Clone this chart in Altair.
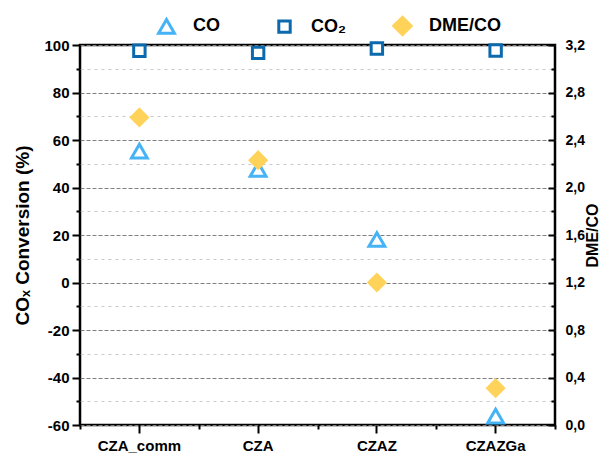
import altair as alt
import pandas as pd

# ---- data ----
categories = ["CZA_comm", "CZA", "CZAZ", "CZAZGa"]
co_conv = [55.3, 47.6, 18.1, -56.3]
co2_conv = [97.6, 96.7, 98.5, 97.7]
dme_co = [2.59, 2.23, 1.20, 0.31]

series_names = ["CO", "CO₂", "DME/CO"]
stroke_colors = ["#45b3f5", "#0b6aad", "#ffd35a"]
fill_colors = ["#ffffff", "#ffffff", "#ffd35a"]
shapes = ["triangle-up", "square", "diamond"]
sizes = [250, 130, 300]

left_major = [-60, -40, -20, 0, 20, 40, 60, 80, 100]
left_minor = [-50, -30, -10, 10, 30, 50, 70, 90]
right_major = [0.0, 0.4, 0.8, 1.2, 1.6, 2.0, 2.4, 2.8, 3.2]
right_minor = [0.2, 0.6, 1.0, 1.4, 1.8, 2.2, 2.6, 3.0]

left_df = pd.DataFrame({
    "cat": categories * 2,
    "series": ["CO"] * 4 + ["CO₂"] * 4,
    "value": co_conv + co2_conv,
})
right_df = pd.DataFrame({
    "cat": categories,
    "series": ["DME/CO"] * 4,
    "value": dme_co,
})

W, H = 475, 380
FONT = "Liberation Sans"

x_scale = alt.Scale(type="band", domain=categories, paddingInner=0, paddingOuter=0)
yl_scale = alt.Scale(domain=[-60, 100], nice=False, zero=False)
yr_scale = alt.Scale(domain=[0, 3.2], nice=False, zero=False)

legend = alt.Legend(
    title=None, orient="none", legendX=76, legendY=-30, direction="horizontal",
    columns=3, gridAlign="all", labelFont=FONT, labelFontSize=18,
    labelFontWeight="bold", labelColor="black", labelOffset=16,
    columnPadding=4, symbolStrokeWidth=3, padding=0,
)

enc_style = dict(
    stroke=alt.Stroke("series:N", scale=alt.Scale(domain=series_names, range=stroke_colors), legend=legend),
    fill=alt.Fill("series:N", scale=alt.Scale(domain=series_names, range=fill_colors), legend=legend),
    shape=alt.Shape("series:N", scale=alt.Scale(domain=series_names, range=shapes), legend=legend),
    size=alt.Size("series:N", scale=alt.Scale(type="ordinal", domain=series_names, range=sizes), legend=legend),
)

tick_common = dict(tickColor="black", tickWidth=2, domain=False)

# minor ticks + minor grid (left and bottom)
minor = alt.Chart(left_df).mark_point(opacity=0).encode(
    x=alt.X("cat:N", sort=categories, scale=x_scale, title=None,
            axis=alt.Axis(orient="bottom", tickBand="extent", labels=False, grid=False,
                          tickSize=4, **tick_common)),
    y=alt.Y("value:Q", scale=yl_scale, title=None,
            axis=alt.Axis(orient="left", values=left_minor, labels=False, grid=True,
                          gridDash=[3, 4], gridColor="#c8c8c8", gridWidth=1,
                          tickSize=4, **tick_common)),
)

main = alt.Chart(left_df).mark_point(filled=True, strokeWidth=3, opacity=1).encode(
    x=alt.X("cat:N", sort=categories, scale=x_scale, title=None,
            axis=alt.Axis(orient="bottom", labelFont=FONT, labelFontSize=15,
                          labelFontWeight="bold", labelColor="black", labelAngle=0,
                          labelPadding=5, grid=False, tickSize=8, **tick_common)),
    y=alt.Y("value:Q", scale=yl_scale,
            axis=alt.Axis(orient="left", values=left_major, title="COₓ Conversion (%)",
                          titleFont=FONT, titleFontSize=19, titleFontWeight="bold",
                          titleColor="black", titlePadding=11,
                          labelFont=FONT, labelFontSize=15, labelFontWeight="bold",
                          labelColor="black", labelPadding=3,
                          labelExpr="toString(datum.value)",
                          grid=True, gridDash=[4, 2], gridColor="#7f7f7f", gridWidth=1,
                          tickSize=8, **tick_common)),
    **enc_style,
)

dme = alt.Chart(right_df).mark_point(filled=True, strokeWidth=2, opacity=1).encode(
    x=alt.X("cat:N", sort=categories, scale=x_scale, axis=None),
    y=alt.Y("value:Q", scale=yr_scale,
            axis=alt.Axis(orient="right", values=right_major, title="DME/CO",
                          titleFont=FONT, titleFontSize=16, titleFontWeight="bold",
                          titleColor="black", titleAngle=270, titleBaseline="top",
                          titlePadding=0,
                          labelFont=FONT, labelFontSize=14, labelFontWeight="bold",
                          labelColor="black", labelPadding=10, ticks=False,
                          labelExpr="replace(format(datum.value, '.1f'), '.', ',')",
                          grid=False, domain=False)),
    **enc_style,
)

right_ticks = alt.Chart(right_df).mark_point(opacity=0).encode(
    x=alt.X("cat:N", sort=categories, scale=x_scale, axis=None),
    y=alt.Y("value:Q", scale=yr_scale, title=None,
            axis=alt.Axis(orient="left", offset=-W, values=right_major, labels=False,
                          grid=False, tickSize=7, **tick_common)),
)
right_minor_ticks = alt.Chart(right_df).mark_point(opacity=0).encode(
    x=alt.X("cat:N", sort=categories, scale=x_scale, axis=None),
    y=alt.Y("value:Q", scale=yr_scale, title=None,
            axis=alt.Axis(orient="left", offset=-W, values=right_minor, labels=False,
                          grid=False, tickSize=4, **tick_common)),
)

chart = alt.layer(minor, main, dme, right_ticks, right_minor_ticks).resolve_scale(
    x="independent", y="independent"
).properties(
    width=W, height=H,
    autosize=alt.AutoSizeParams(type="none"),
    padding={"left": 72, "top": 37, "right": 45, "bottom": 28},
    background="white",
).configure_view(stroke="black", strokeWidth=2.5)

chart.save("out.html", embed_options={"renderer": "svg", "actions": False})
